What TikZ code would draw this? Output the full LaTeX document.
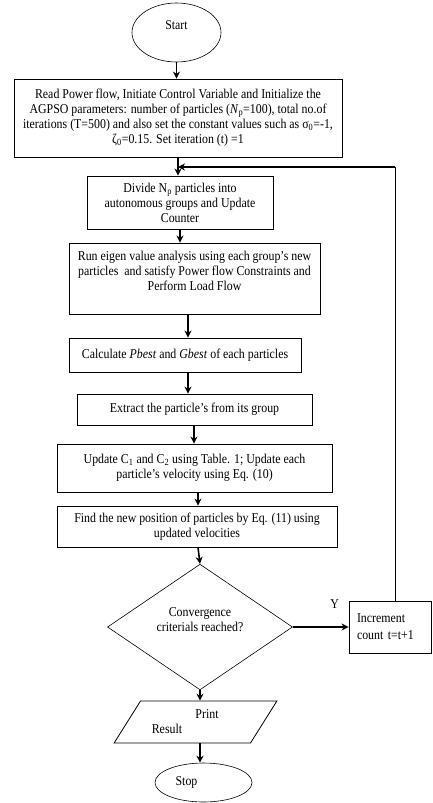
\documentclass[tikz,border=0pt]{standalone}
\usepackage{fontspec}
\setmainfont{Liberation Serif}[FakeStretch=0.88]
\usepackage{tikz}
\usepackage{xcolor}
\usetikzlibrary{shapes,arrows,arrows.meta,positioning,shapes.geometric}
\newcommand{\flowfont}{\fontsize{13.5}{15}\selectfont}
\tikzstyle{process} = [
    rectangle,
    draw=black,
    line width=0.9pt,
    align=center,
    inner sep=2pt,
    font=\flowfont
]
\tikzstyle{terminal} = [
    ellipse,
    draw=black,
    line width=0.6pt,
    align=center,
    inner sep=0pt,
    font=\flowfont
]
\tikzstyle{decision} = [
    diamond,
    draw=black,
    line width=0.6pt,
    align=center,
    inner sep=0pt,
    font=\flowfont
]
\tikzstyle{inout} = [
    trapezium,
    trapezium left angle=52,
    trapezium right angle=128,
    trapezium stretches=true,
    draw=black,
    line width=0.8pt,
    align=center,
    inner sep=2pt,
    font=\flowfont
]
\tikzstyle{arrow} = [
    line width=1.6pt,
    -{Stealth[length=7pt,width=7pt]},
    draw=black
]
\tikzstyle{loopline} = [
    line width=0.9pt,
    draw=black
]

\begin{document}
\begin{tikzpicture}[x=1pt,y=-1pt]
    \useasboundingbox[fill=white] (0,0) rectangle (433,803);

    % terminals and steps
    \node[terminal, minimum width=89pt, minimum height=59pt] (start) at (176.5,32.5) {Start\\[-1pt]\mbox{}};
    \node[process, minimum width=328pt, minimum height=78pt] (read) at (178,118)
        {Read Power flow, Initiate Control Variable and Initialize the\\
         AGPSO parameters: number of particles (\textit{N}\textsubscript{p}=100), total no.of\\
         iterations (T=500) and also set the constant values such as σ\textsubscript{0}=-1,\\
         ζ\textsubscript{0}=0.15. Set iteration (t) =1};
    \node[process, minimum width=186pt, minimum height=53pt] (divide) at (180,202.5)
        {Divide N\textsubscript{p} particles into\\ autonomous groups and Update\\ Counter};
    \node[process, minimum width=251pt, minimum height=71pt] (run) at (194.5,278.5)
        {Run eigen value analysis using each group's new\\
         particles\ \ and satisfy Power flow Constraints and\\
         Perform Load Flow\\ \mbox{}};
    \node[process, minimum width=232pt, minimum height=34pt] (calc) at (185,355)
        {Calculate \textit{Pbest} and \textit{Gbest} of each particles};
    \node[process, minimum width=235pt, minimum height=31pt] (extract) at (194.5,409.5)
        {Extract the particle's from its group};
    \node[process, minimum width=275pt, minimum height=48pt] (update) at (194.5,468)
        {Update C\textsubscript{1} and C\textsubscript{2} using Table. 1; Update each\\
         particle's velocity using Eq. (10)};
    \node[process, minimum width=280pt, minimum height=41pt] (find) at (197,526.5)
        {Find the new position of particles by Eq. (11) using\\ updated velocities};
    \node[decision, minimum width=185pt, minimum height=100pt] (conv) at (200,627)
        {Convergence\\ criterials reached?\\ \mbox{}};
    \node[process, align=left, text width=66pt, inner xsep=8pt, minimum height=52pt] (incr) at (390,627)
        {Increment\\[2pt] count t=t+1};
    \node[inout, minimum width=163pt, minimum height=42pt] (print) at (195.5,722)
        {\hspace*{23pt}Print\\ Result\hspace*{57pt}};
    \node[terminal, minimum width=97pt, minimum height=39pt] (stop) at (203.5,782.5)
        {Stop\hspace*{34pt}};

    \coordinate (bend) at (395,167);
    \coordinate (join) at (178,167);

    % connectors
    \draw[arrow] (start.south) -- (start.south |- read.north);
    \draw[arrow] (read.south) -- (read.south |- divide.north);
    \draw[arrow] (divide.south) -- (divide.south |- run.north);
    \draw[arrow] (run.south -| 188,0) -- (calc.north -| 188,0);
    \draw[arrow] (calc.south -| 188,0) -- (extract.north -| 188,0);
    \draw[arrow] (extract.south -| 194,0) -- (update.north -| 194,0);
    \draw[arrow] (update.south -| 198,0) -- (find.north -| 198,0);
    \draw[arrow] (find.south -| 198,0) -- (conv.north);
    \draw[arrow] (conv.east) -- node[above, pos=0.75, yshift=14pt, font=\flowfont] {Y} (incr.west);
    \draw[arrow] (conv.south) -- (conv.south |- print.north);
    \draw[arrow] (print.south -| 200,0) -- (stop.north -| 200,0);
    \draw[loopline] (incr.north -| bend) -- (bend);
    \draw[arrow] (bend) -- (join);
\end{tikzpicture}
\end{document}
